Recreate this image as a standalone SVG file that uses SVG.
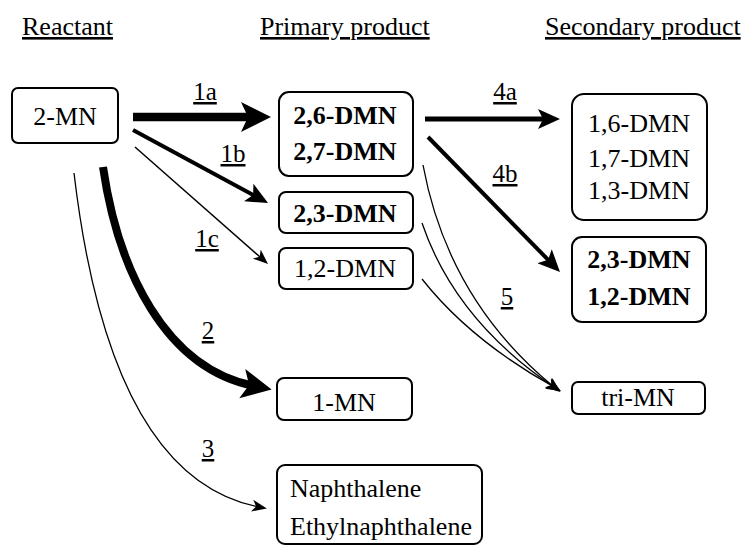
<svg xmlns="http://www.w3.org/2000/svg" width="746" height="547" viewBox="0 0 746 547">
<style>
text{fill:#000}
.hd{font-size:26px;text-decoration:underline}
.bx{fill:#fff;stroke:#000;stroke-width:2}
.t{font-size:26px;text-anchor:middle}
.b{font-weight:bold}
.lb{font-size:25px;text-anchor:middle;text-decoration:underline}
.c{fill:none;stroke:#000;stroke-linecap:butt}
</style>
<defs>
<marker id="hL" markerUnits="userSpaceOnUse" markerWidth="30" markerHeight="32" viewBox="0 0 30 32" refX="12" refY="16" orient="auto"><path d="M0,1 L30,16 L0,31 L7,16 z" fill="#000"/></marker>
<marker id="hM" markerUnits="userSpaceOnUse" markerWidth="22" markerHeight="20" viewBox="0 0 22 20" refX="10" refY="10" orient="auto"><path d="M0,0 L22,10 L0,20 L5,10 z" fill="#000"/></marker>
<marker id="hS" markerUnits="userSpaceOnUse" markerWidth="15" markerHeight="12" viewBox="0 0 15 12" refX="7" refY="6" orient="auto"><path d="M0,0 L15,6 L0,12 L4,6 z" fill="#000"/></marker>
</defs>
<rect width="746" height="547" fill="#fff"/>
<g font-family="Liberation Serif, serif">
<g id="headers">
<text class="hd" x="22" y="35">Reactant</text>
<text class="hd" x="260" y="35">Primary product</text>
<text class="hd" x="545" y="35">Secondary product</text>
</g>
<g id="connectors">
<path class="c" d="M133,117 L253,117" stroke-width="8.5" marker-end="url(#hL)"/>
<path class="c" d="M133,130 L257.5,197.3" stroke-width="4" marker-end="url(#hM)"/>
<path class="c" d="M135,147 L262,258.7" stroke-width="1.5" marker-end="url(#hS)"/>
<path class="c" d="M103,167 C118,270 165,368 254,386" stroke-width="8" marker-end="url(#hL)"/>
<path class="c" d="M74,173 Q110,478 259,507" stroke-width="1.3" marker-end="url(#hS)"/>
<path class="c" d="M425,119 L548,119" stroke-width="5" marker-end="url(#hM)"/>
<path class="c" d="M428,137 L551.6,263.4" stroke-width="4" marker-end="url(#hM)"/>
<path class="c" d="M423,165 Q448,300 554,387" stroke-width="1.3" marker-end="url(#hS)"/>
<path class="c" d="M422,223 Q455,320 554,387" stroke-width="1.3" marker-end="url(#hS)"/>
<path class="c" d="M422,279 Q470,340 554,387" stroke-width="1.3" marker-end="url(#hS)"/>
<text class="lb" x="205" y="100">1a</text>
<text class="lb" x="233" y="162">1b</text>
<text class="lb" x="207" y="247">1c</text>
<text class="lb" x="208" y="339">2</text>
<text class="lb" x="208" y="457">3</text>
<text class="lb" x="505" y="100">4a</text>
<text class="lb" x="505" y="182">4b</text>
<text class="lb" x="507" y="305">5</text>
</g>
<g id="n-2MN">
<rect class="bx" x="12" y="88" width="106" height="55" rx="6"/>
<text class="t" x="65" y="125">2-MN</text>
</g>
<g id="n-2627DMN">
<rect class="bx" x="279" y="92" width="134" height="84" rx="10"/>
<text class="t b" x="345" y="124">2,6-DMN</text>
<text class="t b" x="345" y="160">2,7-DMN</text>
</g>
<g id="n-23DMN">
<rect class="bx" x="279" y="192" width="134" height="41" rx="7"/>
<text class="t b" x="345" y="222">2,3-DMN</text>
</g>
<g id="n-12DMN">
<rect class="bx" x="279" y="248" width="134" height="41" rx="7"/>
<text class="t" x="345" y="277">1,2-DMN</text>
</g>
<g id="n-1MN">
<rect class="bx" x="277" y="378" width="135" height="42" rx="7"/>
<text class="t" x="344" y="411">1-MN</text>
</g>
<g id="n-naph">
<rect class="bx" x="277" y="465" width="205" height="79" rx="8"/>
<text x="290" y="497" font-size="26">Naphthalene</text>
<text x="290" y="535" font-size="26">Ethylnaphthalene</text>
</g>
<g id="n-161713DMN">
<rect class="bx" x="572" y="94" width="135" height="126" rx="12"/>
<text class="t" x="639" y="132">1,6-DMN</text>
<text class="t" x="639" y="167">1,7-DMN</text>
<text class="t" x="639" y="199">1,3-DMN</text>
</g>
<g id="n-2312DMN">
<rect class="bx" x="572" y="237" width="134" height="85" rx="10"/>
<text class="t b" x="639" y="268">2,3-DMN</text>
<text class="t b" x="639" y="305">1,2-DMN</text>
</g>
<g id="n-triMN">
<rect class="bx" x="572" y="382" width="133" height="32" rx="6"/>
<text class="t" x="638" y="406">tri-MN</text>
</g>
</g>
</svg>
